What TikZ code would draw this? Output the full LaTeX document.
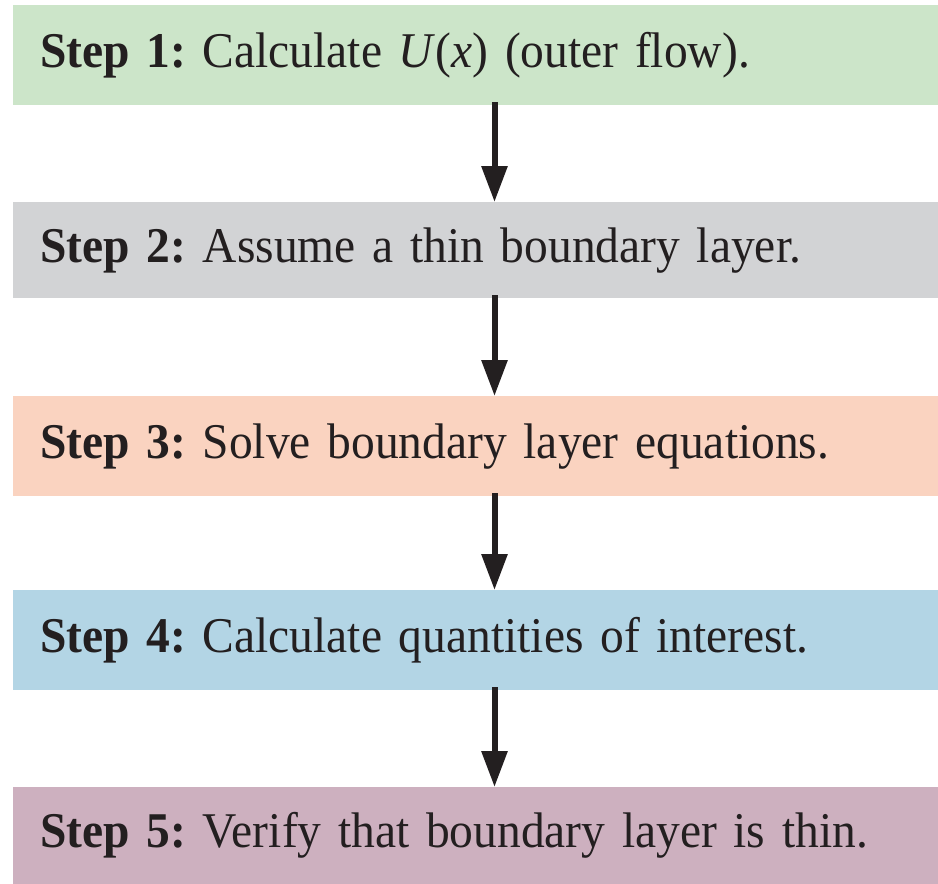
\documentclass[tikz,border=0pt]{standalone}
\usepackage{fontspec}
\setmainfont[FakeStretch=0.95]{Liberation Serif}
\frenchspacing
\usetikzlibrary{arrows.meta}
\definecolor{cA}{RGB}{204,229,201}
\definecolor{cB}{RGB}{210,211,213}
\definecolor{cC}{RGB}{250,211,192}
\definecolor{cD}{RGB}{179,213,229}
\definecolor{cE}{RGB}{205,176,191}
\definecolor{txt}{RGB}{35,31,32}
\newcommand{\steptextfont}{\fontsize{50}{58}\selectfont\frenchspacing}
\tikzset{
  stepbox/.style={draw=none, rectangle, anchor=north west, minimum width=925pt,
    inner xsep=27pt, inner ysep=0pt, text width=871pt, align=left,
    font=\steptextfont, text=txt},
  flowarrow/.style={line width=6pt, draw=txt, -{Triangle[length=36pt,width=25pt]}, shorten <=-3pt}
}
\begin{document}
\begin{tikzpicture}[x=1pt,y=-1pt]
\useasboundingbox (0,0) rectangle (938,884);
\node[stepbox, fill=cA, minimum height=100pt] (s1) at (13,5) {\textbf{Step 1:} Calculate \textit{U}(\textit{x}) (outer flow).};
\node[stepbox, fill=cB, minimum height=96pt] (s2) at (13,202) {\textbf{Step 2:} Assume a thin boundary layer.};
\node[stepbox, fill=cC, minimum height=100pt] (s3) at (13,396) {\textbf{Step 3:} Solve boundary layer equations.};
\node[stepbox, fill=cD, minimum height=100pt] (s4) at (13,590) {\textbf{Step 4:} Calculate quantities of interest.};
\node[stepbox, fill=cE, minimum height=97pt] (s5) at (13,787) {\textbf{Step 5:} Verify that boundary layer is thin.};
\coordinate (ax) at (494.5,0);
\draw[flowarrow] (s1.south -| ax) -- (s2.north -| ax);
\draw[flowarrow] (s2.south -| ax) -- (s3.north -| ax);
\draw[flowarrow] (s3.south -| ax) -- (s4.north -| ax);
\draw[flowarrow] (s4.south -| ax) -- (s5.north -| ax);
\end{tikzpicture}
\end{document}
